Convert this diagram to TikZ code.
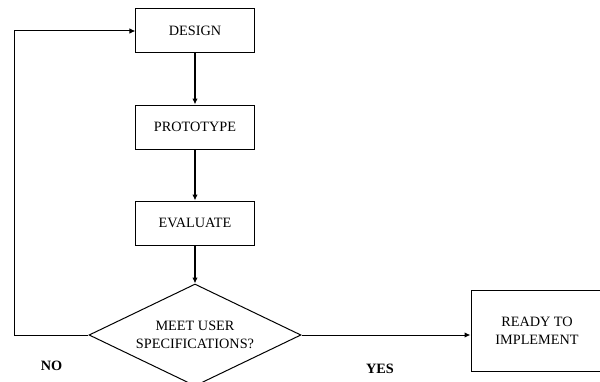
\documentclass[tikz,border=0pt]{standalone}
\usepackage{fontspec}
\setmainfont{Liberation Serif}
\usetikzlibrary{arrows.meta,positioning,shapes.geometric}

\begin{document}
\begin{tikzpicture}[
    node distance=38.25pt,
    every node/.style={font=\fontsize{10.7}{13.7}\selectfont},
    box/.style={draw, line width=0.75pt, minimum width=88.5pt,
                minimum height=33pt, align=center},
    endbox/.style={box, minimum width=99pt, minimum height=60.75pt},
    decision/.style={draw, diamond, line width=0.75pt, aspect=2.08,
                     inner sep=1pt, minimum width=159pt,
                     minimum height=76.5pt, align=center},
    lbl/.style={font=\fontsize{10.7}{13.7}\selectfont\bfseries},
    arr/.style={-{Latex[length=4.5pt,width=4pt]}, line width=0.75pt}]
  \useasboundingbox (-146.25pt,23.25pt) rectangle (303.75pt,-263.25pt);
  \node[box] (design) {DESIGN};
  \node[box, below=of design] (prototype) {PROTOTYPE};
  \node[box, below=of prototype] (evaluate) {EVALUATE};
  \node[decision, below=28.5pt of evaluate] (check) {MEET USER\\SPECIFICATIONS?};
  \node[endbox, right=126.75pt of check, yshift=3pt] (ready) {READY TO\\IMPLEMENT};
  \coordinate[left=55.5pt of check.west] (loop);
  \draw[arr] (design) -- (prototype);
  \draw[arr] (prototype) -- (evaluate);
  \draw[arr] (evaluate) -- (check);
  \draw[arr] (check.east) -- (check.east -| ready.west);
  \draw[arr] (check.west) -- (loop) |- (design.west);
  \node[lbl] (no) at (-107.6pt,-251.3pt) {NO};
  \node[lbl] (yes) at (138.75pt,-253.5pt) {YES};
\end{tikzpicture}
\end{document}
